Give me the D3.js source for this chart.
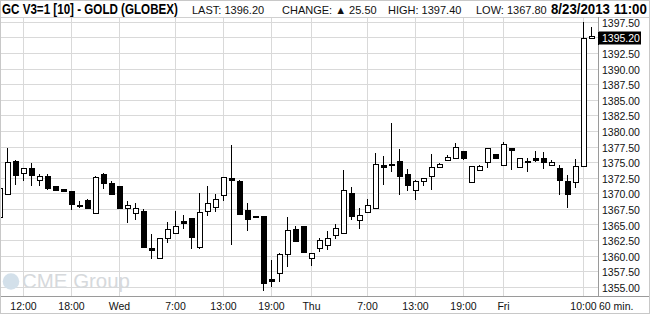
<!DOCTYPE html>
<html>
<head>
<meta charset="utf-8">
<script src="https://cdn.jsdelivr.net/npm/d3@7"></script>
<style>
  body { margin: 0; background: #fff; }
  svg { display: block; font-family: "Liberation Sans", Arial, sans-serif; }
</style>
</head>
<body>
<svg id="chart" width="650" height="314"></svg>
<script>
// hourly bars, first one is Tue 8/20/2013 09:00
var first_bar = new Date(2013, 7, 20, 9)
var bar_open  = [1366.2,1369.9,1375.2,1373.2,1374.0,1372.1,1372.8,1371.1,1370.7,1370.4,1368.1,1368.9,1366.8,1373.1,1371.7,1371.2,1367.6,1366.8,1367.2,1361.3,1359.7,1362.8,1363.6,1365.6,1366.0,1361.4,1367.1,1367.8,1369.8,1372.4,1371.9,1367.3,1366.4,1366.4,1356.2,1357.2,1360.2,1364.2,1364.8,1359.7,1361.2,1361.7,1363.3,1363.6,1370.0,1365.8,1367.0,1367.6,1374.5,1374.7,1375.2,1373.1,1370.5,1372.0,1372.7,1374.2,1375.4,1375.6,1376.8,1371.8,1373.8,1375.0,1376.3,1374.6,1377.3,1374.2,1375.2,1375.6,1375.6,1374.6,1374.0,1371.9,1371.8,1374.3,1394.9]
var bar_high  = [1371.2,1377.2,1375.4,1374.1,1374.8,1373.1,1373.1,1371.2,1370.7,1370.4,1368.7,1369.1,1372.7,1373.2,1371.9,1371.2,1368.8,1368.4,1367.5,1363.5,1362.9,1365.4,1367.2,1366.6,1366.0,1370.1,1371.2,1369.9,1372.6,1377.7,1372.2,1368.4,1366.4,1366.4,1359.3,1360.4,1366.2,1364.8,1364.8,1360.5,1362.9,1364.0,1365.1,1373.7,1371.0,1367.6,1369.1,1376.4,1375.9,1381.2,1377.1,1373.9,1372.2,1372.4,1376.3,1374.9,1376.1,1378.0,1376.8,1374.3,1374.6,1377.2,1376.3,1378.2,1377.3,1375.6,1375.7,1376.8,1376.6,1375.4,1374.5,1373.0,1375.5,1397.5,1396.6]
var bar_low   = [1365.9,1369.9,1371.4,1371.9,1371.1,1371.2,1370.6,1370.4,1370.2,1367.3,1367.6,1367.5,1366.8,1370.7,1369.8,1367.5,1365.3,1365.8,1361.2,1359.5,1359.6,1362.0,1363.4,1364.3,1361.0,1361.1,1366.4,1367.0,1368.7,1361.7,1366.6,1363.9,1366.2,1354.4,1355.0,1355.8,1358.2,1362.2,1360.5,1358.4,1360.6,1360.9,1362.6,1363.6,1365.8,1364.2,1367.0,1367.6,1371.4,1373.4,1369.8,1370.4,1369.0,1371.1,1370.6,1374.2,1375.2,1375.6,1375.3,1371.8,1373.8,1374.0,1375.5,1374.4,1373.7,1374.2,1373.4,1375.0,1373.9,1374.5,1369.7,1367.7,1370.8,1374.3,1394.9]
var bar_close = [1370.8,1375.0,1372.8,1374.0,1372.8,1372.7,1370.7,1370.4,1370.2,1368.1,1368.1,1367.5,1372.6,1371.5,1369.8,1367.5,1368.1,1367.6,1361.2,1360.7,1362.9,1364.3,1364.7,1365.0,1362.9,1367.0,1368.4,1369.1,1372.6,1371.9,1366.6,1365.8,1366.2,1355.5,1355.8,1360.3,1364.1,1362.2,1360.5,1360.5,1362.5,1362.9,1364.4,1370.5,1366.2,1366.6,1368.1,1374.7,1374.1,1374.4,1372.6,1371.2,1372.0,1372.4,1374.2,1374.7,1375.8,1377.5,1375.5,1374.3,1374.4,1377.2,1375.5,1377.9,1376.8,1375.6,1374.8,1375.2,1374.8,1375.0,1371.9,1369.8,1374.3,1394.9,1395.2]

var price_ticks = [1355, 1357.5, 1360, 1362.5, 1365, 1367.5, 1370, 1372.5, 1375, 1377.5, 1380, 1382.5, 1385, 1387.5, 1390, 1392.5, 1395, 1397.5]
var time_ticks = [new Date(2013,7,20,12), new Date(2013,7,20,18), new Date(2013,7,21,0), new Date(2013,7,21,7),
                  new Date(2013,7,21,13), new Date(2013,7,21,19), new Date(2013,7,22,0), new Date(2013,7,22,7),
                  new Date(2013,7,22,13), new Date(2013,7,22,19), new Date(2013,7,23,0), new Date(2013,7,23,10)]
var time_labels = ["12:00", "18:00", "Wed", "7:00", "13:00", "19:00", "Thu", "7:00", "13:00", "19:00", "Fri", "10:00"]

var title_text = "GC V3=1 [10] - GOLD (GLOBEX)"
var stat_texts = ["LAST: 1396.20", "CHANGE: \u25B2 25.50", "HIGH: 1397.40", "LOW: 1367.80"]
var stamp_text = "8/23/2013 11:00"
var last_price = 1395.20

var svg = d3.select("#chart")
var width = 650, height = 314
var plot_top = 17, plot_bottom = 296.5, plot_right = 598.5

var x = d3.scaleTime()
    .domain([new Date(2013,7,20,10), new Date(2013,7,23,11)])
    .range([7.5, 591.5])
var y = d3.scaleLinear()
    .domain([1355, 1397.5])
    .range([286.9, 21.7])

var bars = bar_open.map(function(o, i){
  return {t: d3.timeHour.offset(first_bar, i), o: o, h: bar_high[i], l: bar_low[i], c: bar_close[i]}
})

var crisp = function(v){ return Math.round(v) + 0.5 }

// squeeze a text horizontally so it is w wide, starting at x0
function fit_text(sel, x0, y0, w){
  var natural = sel.node().getComputedTextLength()
  sel.attr("x", 0).attr("y", 0)
     .attr("transform", "translate(" + x0 + "," + y0 + ") scale(" + (w / natural) + ",1)")
}

// grid
var grid = svg.append("g")
grid.selectAll(".hgrid")
    .data(price_ticks)
    .enter().append("line")
    .attr("x1", 0).attr("x2", plot_right)
    .attr("y1", function(d){ return crisp(y(d)) })
    .attr("y2", function(d){ return crisp(y(d)) })
    .attr("stroke", "#d9d9d9")
grid.selectAll(".vgrid")
    .data(time_ticks)
    .enter().append("line")
    .attr("x1", function(d){ return x(d) }).attr("x2", function(d){ return x(d) })
    .attr("y1", plot_top).attr("y2", plot_bottom)
    .attr("stroke", "#d9d9d9")

// watermark
var mark = svg.append("g")
mark.append("circle")
    .attr("cx", 11).attr("cy", 281.5).attr("r", 8.3)
    .attr("fill", "#d3e0ea")
mark.append("text")
    .attr("x", 22).attr("y", 287.5)
    .attr("font-size", 20)
    .attr("textLength", 108).attr("lengthAdjust", "spacingAndGlyphs")
    .attr("fill", "#d6d9dc")
    .text("CME Group")

// candles
var candle = svg.append("g").selectAll(".candle")
    .data(bars)
    .enter().append("g")
    .attr("class", "candle")
candle.append("line")
    .attr("x1", function(d){ return x(d.t) }).attr("x2", function(d){ return x(d.t) })
    .attr("y1", function(d){ return Math.round(y(d.h)) })
    .attr("y2", function(d){ return Math.round(y(d.l)) })
    .attr("stroke", "#000")
candle.filter(function(d){ return d.c <= d.o }).append("rect")
    .attr("x", function(d){ return x(d.t) - 2.5 })
    .attr("width", 6)
    .attr("y", function(d){ return Math.round(y(d.o)) })
    .attr("height", function(d){ return Math.max(2, Math.round(y(d.c)) - Math.round(y(d.o))) })
    .attr("fill", "#000")
candle.filter(function(d){ return d.c > d.o }).append("rect")
    .attr("x", function(d){ return x(d.t) - 2 })
    .attr("width", 5)
    .attr("y", function(d){ return crisp(y(d.c)) })
    .attr("height", function(d){ return Math.max(1, Math.round(y(d.o)) - Math.round(y(d.c))) })
    .attr("fill", "#fff")
    .attr("stroke", "#000")

// frame pieces
svg.append("rect").attr("x", plot_right + 0.5).attr("y", 0).attr("width", width - plot_right).attr("height", height).attr("fill", "#fff")
svg.append("rect").attr("x", 0).attr("y", plot_bottom).attr("width", width).attr("height", height - plot_bottom).attr("fill", "#fff")
svg.append("rect").attr("x", 0).attr("y", 0).attr("width", width).attr("height", plot_top).attr("fill", "#fff")
svg.append("line").attr("x1", 0).attr("x2", width).attr("y1", plot_top + 0.5).attr("y2", plot_top + 0.5).attr("stroke", "#d0d0d0")
svg.append("line").attr("x1", plot_right).attr("x2", plot_right).attr("y1", plot_top).attr("y2", plot_bottom).attr("stroke", "#9a9a9a")
svg.append("line").attr("x1", 0).attr("x2", width).attr("y1", plot_bottom).attr("y2", plot_bottom).attr("stroke", "#9a9a9a")
svg.append("rect").attr("x", 0.5).attr("y", 0.5).attr("width", width - 1).attr("height", height - 1)
    .attr("fill", "none").attr("stroke", "#c8c8c8")

// price axis labels
svg.append("g").selectAll("text")
    .data(price_ticks.filter(function(d){ return Math.abs(d - last_price) > 1 }))
    .enter().append("text")
    .attr("x", 602).attr("y", function(d){ return y(d) + 5 })
    .attr("font-size", 10.5).attr("fill", "#111")
    .text(function(d){ return d3.format(".2f")(d) })
svg.append("line").attr("x1", plot_right).attr("x2", plot_right)
    .attr("y1", 32).attr("y2", 45).attr("stroke", "#000")
svg.append("rect").attr("x", 599).attr("y", 31.5).attr("width", 42).attr("height", 13).attr("fill", "#000")
svg.append("text")
    .attr("x", 602).attr("y", y(last_price) + 6)
    .attr("font-size", 10.5).attr("fill", "#fff")
    .text(d3.format(".2f")(last_price))

// time axis labels
svg.append("g").selectAll("text")
    .data(time_ticks)
    .enter().append("text")
    .attr("x", function(d){ return x(d) }).attr("y", 310)
    .attr("text-anchor", "middle")
    .attr("font-size", 10.5).attr("fill", "#111")
    .text(function(d, i){ return time_labels[i] })
svg.append("text")
    .attr("x", 599).attr("y", 310)
    .attr("font-size", 10.5).attr("fill", "#111")
    .text("60 min.")

// header
var title = svg.append("text")
    .attr("font-size", 14).attr("font-weight", "bold")
    .text(title_text)
fit_text(title, 2, 14, 176)
var stat_x = [192, 282, 388, 476]
svg.append("g").selectAll("text")
    .data(stat_texts)
    .enter().append("text")
    .attr("x", function(d, i){ return stat_x[i] }).attr("y", 14)
    .attr("font-size", 11).attr("fill", "#111")
    .text(function(d){ return d })
var stamp = svg.append("text")
    .attr("font-size", 14).attr("font-weight", "bold")
    .text(stamp_text)
fit_text(stamp, 551, 14, 96)
</script>
</body>
</html>
